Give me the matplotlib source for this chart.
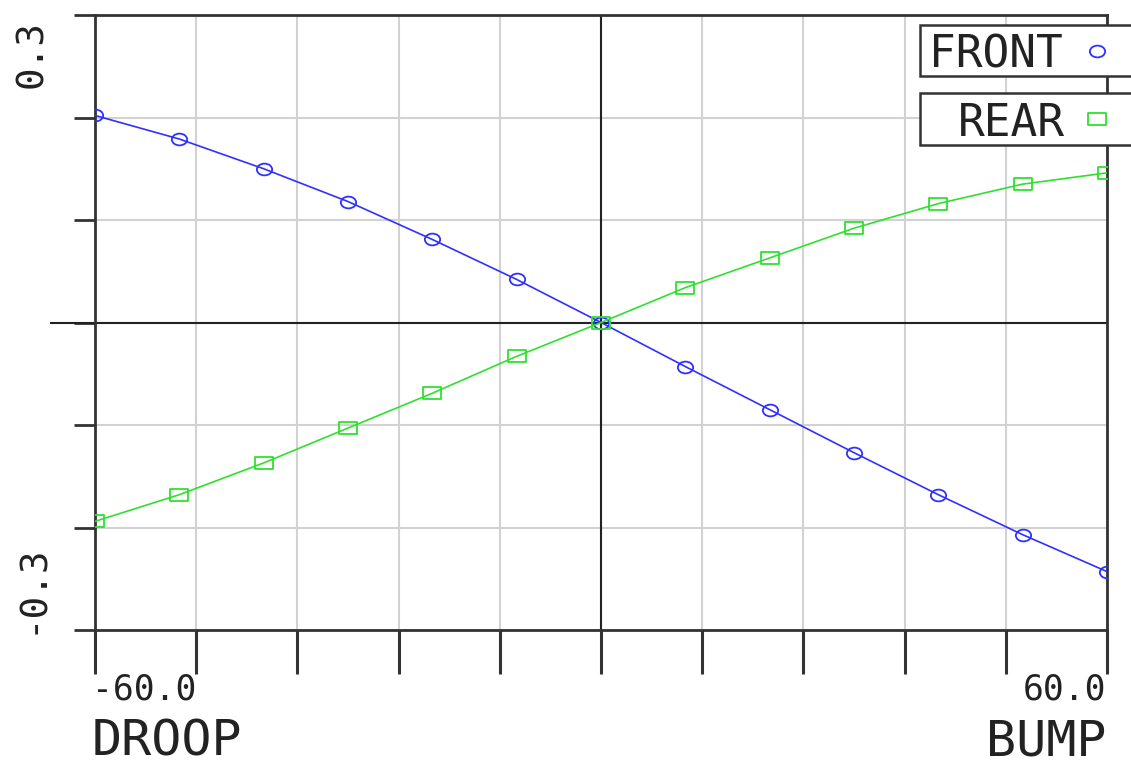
import matplotlib.pyplot as plt
import numpy as np
from matplotlib.path import Path
from matplotlib.markers import MarkerStyle
from matplotlib.patches import Rectangle
from matplotlib.lines import Line2D
from matplotlib.transforms import Affine2D

# wheel travel (mm) and toe change for front / rear
travel = [-60, -50, -40, -30, -20, -10, 0, 10, 20, 30, 40, 50, 60]
front = [0.202, 0.179, 0.150, 0.118, 0.081, 0.042, 0.0,
         -0.043, -0.085, -0.127, -0.168, -0.207, -0.243]
rear = [-0.194, -0.168, -0.137, -0.103, -0.069, -0.033, 0.0,
        0.034, 0.063, 0.092, 0.116, 0.135, 0.146]

x_ticks = np.linspace(-60, 60, 11)
y_ticks = np.linspace(-0.3, 0.3, 7)

blue = '#3030ff'
green = '#2fe02f'
dark = '#333333'
font = 'DejaVu Sans Mono'

W, H = 1131, 767
fig = plt.figure(figsize=(W / 100, H / 100), dpi=100)
# pixel coords (origin top-left) -> figure
pix = Affine2D().scale(1 / W, -1 / H).translate(0, 1) + fig.transFigure

ax = fig.add_axes([95 / W, 1 - 630 / H, (1107 - 95) / W, (630 - 15) / H])

# flattened markers like the original plotter output
ell = MarkerStyle(Path.unit_circle().transformed(Affine2D().scale(1.3, 1.0)))
sq = MarkerStyle(Path.unit_rectangle().transformed(
    Affine2D().translate(-0.5, -0.5).scale(1.6, 1.0)))

ax.plot(travel, front, color=blue, lw=1.2, marker=ell, ms=11,
        mfc='none', mec=blue, mew=1.3, zorder=4)
ax.plot(travel, rear, color=green, lw=1.2, marker=sq, ms=13,
        mfc='none', mec=green, mew=1.3, zorder=4)

ax.set_xlim(-60, 60)
ax.set_ylim(-0.3, 0.3)
ax.set_xticks(x_ticks)
ax.set_yticks(y_ticks)
ax.grid(True, color='#d2d2d2', lw=1.5, zorder=0)
ax.axhline(0, color='#222222', lw=1.5, zorder=2)
ax.axvline(0, color='#222222', lw=1.5, zorder=2)
ax.plot([-0.043, 0], [0, 0], color='#222222', lw=1.5,
        transform=ax.get_yaxis_transform(), clip_on=False)

for s in ax.spines.values():
    s.set_color(dark)
    s.set_linewidth(2)
ax.tick_params(axis='y', length=15, width=2, color=dark, labelleft=False)
ax.tick_params(axis='x', length=32, width=2.2, color=dark, labelbottom=False)

# axis annotations
ax.text(92, 700, '-60.0', transform=pix, fontsize=25, family=font,
        color='#222222', ha='left', va='baseline')
ax.text(1106, 700, '60.0', transform=pix, fontsize=25, family=font,
        color='#222222', ha='right', va='baseline')
ax.text(92, 755, 'DROOP', transform=pix, fontsize=36, family=font,
        color='#222222', ha='left', va='baseline')
ax.text(1106, 755, 'BUMP', transform=pix, fontsize=36, family=font,
        color='#222222', ha='right', va='baseline')
ax.text(32, 20, '0.3', transform=pix, fontsize=27, family=font,
        color='#222222', rotation=90, ha='center', va='top')
ax.text(32, 634, '-0.3', transform=pix, fontsize=27, family=font,
        color='#222222', rotation=90, ha='center', va='bottom')

# legend boxes
for top, bot, label, tx, mk, ms, col in [
        (25, 76, 'FRONT', 929, ell, 11, blue),
        (93, 145, 'REAR', 958, sq, 13, green)]:
    fig.add_artist(Rectangle((920, top), 240, bot - top, transform=pix,
                             facecolor='white', edgecolor=dark, lw=1.8,
                             zorder=10))
    fig.text(tx, bot - 9, label, transform=pix, fontsize=32, family=font,
             color='#222222', ha='left', va='baseline', zorder=11)
    fig.add_artist(Line2D([1097], [(top + bot) / 2], transform=pix,
                          marker=mk, ms=ms, mfc='none', mec=col, mew=1.3,
                          ls='none', zorder=11))

fig.savefig('out.png', dpi=100)
